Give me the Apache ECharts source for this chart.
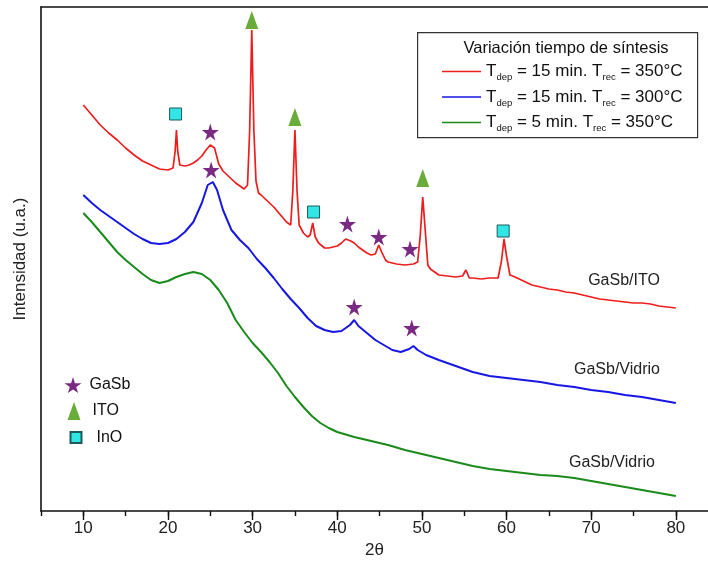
<!DOCTYPE html>
<html>
<head>
<meta charset="utf-8">
<script src="https://cdn.jsdelivr.net/npm/echarts@6/dist/echarts.min.js"></script>
<style>
  html, body { margin: 0; padding: 0; background: #fff; }
  #chart { width: 708px; height: 569px; }
</style>
</head>
<body>
<div id="chart"></div>
<script>
// 2theta / intensity (u.a.) pairs
let redPts = [[10,406],[11,396],[12,386],[13,378],[14,371],[15,363],[16,356],[17,350],[18,346],[19,342],[20,341],[20.6,343],[20.85,360],[21.0,381],[21.15,360],[21.4,346],[22,345],[22.5,346],[23,348],[23.5,351],[24,355],[24.5,361],[25,366],[25.5,363],[26,347],[26.5,340],[27,336],[27.5,332],[28,328],[28.5,325],[29,322],[29.4,326],[29.65,380],[29.9,481],[30.15,380],[30.4,330],[30.7,318],[31,316],[31.5,312],[32,308],[32.5,304],[33,299],[33.5,294],[34,289],[34.5,286],[34.75,320],[35.0,381],[35.25,320],[35.5,286],[36,278],[36.5,274],[36.8,276],[37.1,288],[37.4,274],[37.8,268],[38.5,263],[39,263],[39.5,264],[40,265],[40.5,268],[41,272],[41.2,274],[41.6,270],[42,268],[42.5,264],[43,261],[43.5,258],[44,256],[44.5,257],[44.9,266],[45.3,258],[45.7,251],[46,249],[47,247],[48,246],[49,247],[49.5,249],[49.8,275],[50.1,314],[50.4,280],[50.7,246],[51,242],[52,236],[53,235],[54,234],[54.8,235],[55.2,241],[55.6,233],[56,233],[57,232],[58,233],[59,233],[59.4,250],[59.7,272],[60,255],[60.4,236],[61,234],[62,230],[63,226],[64,224],[65,222],[66,221],[67,219],[68,218],[69,216],[70,214],[71,212],[72,211],[73,210],[74,209],[75,208],[76,208],[77,207],[78,205],[79,204],[80,203]];
let bluePts = [[10,316],[11,308],[12,301],[13,295],[14,289],[15,283],[16,277],[17,272],[18,268],[19,267],[20,268],[21,272],[22,279],[23,289],[24,308],[24.7,326],[25.3,329],[25.8,321],[26.5,301],[27.5,281],[28.5,271],[29.5,263],[30.5,252],[31.5,243],[32.5,233],[33.5,222],[34.5,212],[35.5,203],[36.5,193],[37.5,185],[38.5,181],[39.5,179],[40.5,180],[41.5,186],[42,191],[42.5,185],[43.5,178],[44.5,171],[45.5,166],[46.5,161],[47.5,159],[48.5,162],[49,165],[49.5,161],[50.5,156],[52,151],[54,145],[56,139],[58,135],[60,133],[62,131],[64,129],[66,126],[68,124],[70,121],[72,119],[74,116],[76,114],[78,111],[80,108]];
let greenPts = [[10,298],[11,289],[12,279],[13,269],[14,259],[15,251],[16,244],[17,237],[18,231],[19,228],[20,230],[21,234],[22,237],[23,239],[24,237],[25,231],[26,221],[27,208],[28,191],[29,179],[30,168],[31,159],[32,149],[33,138],[34,125],[35,114],[36,104],[37,95],[38,88],[39,83],[40,79],[42,74],[44,70],[46,66],[48,61],[50,57],[52,53],[54,49],[56,45],[58,42],[60,40],[62,38],[64,36],[66,35],[68,33],[70,30],[72,27],[74,24],[76,21],[78,18],[80,15]];

// phase markers
let gasbPts = [[25.0,379],[25.1,341],[41.2,287],[44.9,274],[48.6,262],[42.0,204],[48.8,183]];
let itoPts = [[29.9,491],[35.0,394],[50.1,333]];
let inoPts = [[20.9,397],[37.2,299],[59.6,280]];

let lineNames = ['r350', 'r300', 'g350'];
let lineLabels = {
    r350: '{n|T}{s|dep}{n| = 15 min. T}{s|rec}{n| = 350°C}',
    r300: '{n|T}{s|dep}{n| = 15 min. T}{s|rec}{n| = 300°C}',
    g350: '{n|T}{s|dep}{n| = 5 min. T}{s|rec}{n| = 350°C}'
};
let xTicks = [10, 20, 30, 40, 50, 60, 70, 80];

let FONT = '"Liberation Sans", Arial, sans-serif';
let STAR = 'path://M50,0 L61,35 L98,35 L68,57 L79,91 L50,70 L21,91 L32,57 L2,35 L39,35 Z';

let chart = echarts.init(document.getElementById('chart'));

let xBase = {
    type: 'value', min: 5, max: 83.8, gridIndex: 0,
    splitLine: {show: false}
};

// one small legend per phase marker, so each icon keeps its own size
function markLegend(name, left, top, w, h, pad) {
    return {
        data: [name], left: left, top: top,
        itemWidth: w, itemHeight: h, selectedMode: false,
        formatter: '{t|{name}}',
        textStyle: {rich: {t: {fontSize: 16, color: '#111', fontFamily: FONT, padding: [0, 0, 0, pad]}}}
    };
}

let option = {
    animation: false,
    backgroundColor: '#fff',
    textStyle: {fontFamily: FONT},
    grid: {left: 41, top: 7, width: 672, height: 504},
    xAxis: [
        Object.assign({}, xBase, {
            position: 'bottom', interval: 5,
            name: '2θ', nameLocation: 'middle', nameGap: 31,
            nameTextStyle: {fontSize: 17, color: '#222', fontFamily: FONT},
            axisLine: {lineStyle: {color: '#111', width: 1.6}},
            axisTick: {length: 5, lineStyle: {color: '#111', width: 1.4}},
            axisLabel: {
                margin: 9, fontSize: 17, color: '#222', fontFamily: FONT, showMaxLabel: false,
                formatter: function (v) { return v % 10 === 0 ? v : ''; }
            }
        }),
        Object.assign({}, xBase, {
            position: 'bottom',
            axisLine: {show: false},
            axisTick: {show: true, customValues: xTicks, length: 9, lineStyle: {color: '#111', width: 1.4}},
            axisLabel: {show: false}
        }),
        Object.assign({}, xBase, {
            position: 'top',
            axisLine: {lineStyle: {color: '#111', width: 1.6}},
            axisTick: {show: false},
            axisLabel: {show: false}
        })
    ],
    yAxis: {
        type: 'value', min: 0, max: 504,
        name: 'Intensidad (u.a.)', nameLocation: 'middle', nameGap: 12,
        nameTextStyle: {fontSize: 17, color: '#222', fontFamily: FONT},
        axisLine: {show: true, lineStyle: {color: '#111', width: 1.6}},
        axisTick: {show: false},
        axisLabel: {show: false},
        splitLine: {show: false}
    },
    legend: [
        {
            data: lineNames,
            orient: 'vertical', left: 437, top: 58,
            icon: 'rect', itemWidth: 39, itemHeight: 1.5, itemGap: 6,
            selectedMode: false,
            formatter: function (name) { return lineLabels[name]; },
            textStyle: {
                rich: {
                    n: {fontSize: 17, color: '#111', fontFamily: FONT, lineHeight: 22, verticalAlign: 'middle'},
                    s: {fontSize: 9.5, color: '#111', fontFamily: FONT, verticalAlign: 'bottom', padding: [0, 0, 0, 0]}
                }
            }
        },
        markLegend('GaSb', 59.5, 372, 17, 17, 3),
        markLegend('ITO', 62.5, 397, 13, 18, 7),
        markLegend('InO', 64.5, 424.5, 11, 11, 10)
    ],
    graphic: [
        {
            type: 'rect', left: 417, top: 32, z: 1,
            shape: {width: 280, height: 105},
            style: {fill: '#fff', stroke: '#333', lineWidth: 1.2}
        },
        {
            type: 'text', x: 566, y: 48, z: 2,
            style: {text: 'Variación tiempo de síntesis', fontSize: 16.5, fontFamily: FONT, fill: '#111', align: 'center', verticalAlign: 'middle'}
        },
        {
            type: 'text', x: 624, y: 281, z: 2,
            style: {text: 'GaSb/ITO', fontSize: 16, fontFamily: FONT, fill: '#222', align: 'center', verticalAlign: 'middle'}
        },
        {
            type: 'text', x: 617, y: 370, z: 2,
            style: {text: 'GaSb/Vidrio', fontSize: 16, fontFamily: FONT, fill: '#222', align: 'center', verticalAlign: 'middle'}
        },
        {
            type: 'text', x: 612, y: 463, z: 2,
            style: {text: 'GaSb/Vidrio', fontSize: 16, fontFamily: FONT, fill: '#222', align: 'center', verticalAlign: 'middle'}
        }
    ],
    series: [
        {
            name: 'r350', type: 'line', data: redPts, symbol: 'none', z: 3,
            itemStyle: {color: '#ee1d1d'},
            lineStyle: {color: '#ee1d1d', width: 1.7}
        },
        {
            name: 'r300', type: 'line', data: bluePts, symbol: 'none', z: 3,
            itemStyle: {color: '#1717e3'},
            lineStyle: {color: '#1717e3', width: 2}
        },
        {
            name: 'g350', type: 'line', data: greenPts, symbol: 'none', z: 3,
            itemStyle: {color: '#1a8a1a'},
            lineStyle: {color: '#1a8a1a', width: 2}
        },
        {
            name: 'GaSb', type: 'scatter', data: gasbPts, symbol: STAR, symbolSize: 17, z: 5,
            itemStyle: {color: '#7b2a84', opacity: 1}
        },
        {
            name: 'ITO', type: 'scatter', data: itoPts, symbol: 'triangle', symbolSize: [13, 18], z: 5,
            itemStyle: {color: '#6aac3a', opacity: 1}
        },
        {
            name: 'InO', type: 'scatter', data: inoPts, symbol: 'rect', symbolSize: 12, z: 5,
            itemStyle: {color: '#33e6e6', borderColor: '#1f5a5a', borderWidth: 1, opacity: 1}
        }
    ]
};

chart.setOption(option);
</script>
</body>
</html>
